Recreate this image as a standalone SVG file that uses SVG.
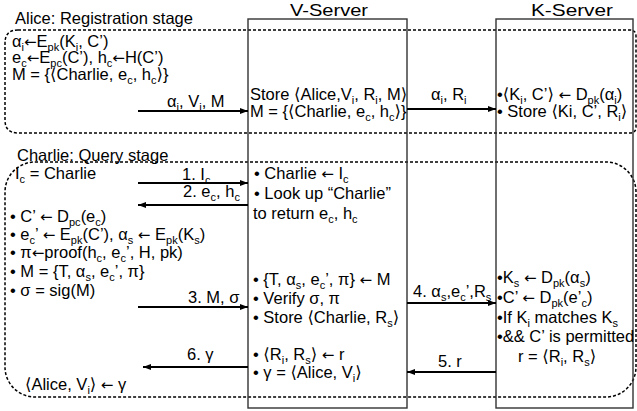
<svg xmlns="http://www.w3.org/2000/svg" width="637" height="411" viewBox="0 0 637 411">
<defs>
<style>
text{font-family:"Liberation Sans",Arial,"DejaVu Sans",sans-serif;font-size:16.5px;fill:#000}
.s{font-size:11px;baseline-shift:-4px}
.a{font-family:"DejaVu Sans",sans-serif;font-size:15px}
.ttl{font-size:17px}
.dash{fill:none;stroke:#000;stroke-width:1.5;stroke-dasharray:3 2}
.srv{fill:none;stroke:#333;stroke-width:1.4}
.arr{stroke:#000;stroke-width:2;fill:none;marker-end:url(#ah)}
</style>
<marker id="ah" markerWidth="8" markerHeight="6" refX="8" refY="3" orient="auto" markerUnits="userSpaceOnUse">
<path d="M0,0 L8,3 L0,6 Z" fill="#000"/>
</marker>
</defs>

<g id="alice-stage">
<path class="dash" d="M18,30 H630 Q636,30 636,36 V127 Q636,133 630,133 H18 Q5,133 5,120 V43 Q5,30 18,30 Z"/>
<text x="15" y="24">Alice: Registration stage</text>
<text x="12" y="47">α<tspan class="s">i</tspan><tspan class="a">←</tspan>E<tspan class="s">pk</tspan>(K<tspan class="s">i</tspan>, C’)</text>
<text x="12" y="63">e<tspan class="s">c</tspan><tspan class="a">←</tspan>E<tspan class="s">pc</tspan>(C’),  h<tspan class="s">c</tspan><tspan class="a">←</tspan>H(C’)</text>
<text x="12" y="80">M = {⟨Charlie, e<tspan class="s">c</tspan>, h<tspan class="s">c</tspan>⟩}</text>
</g>

<g id="charlie-stage">
<rect class="dash" x="5" y="162" width="631" height="235" rx="30" ry="30"/>
<text x="17" y="161">Charlie: Query stage</text>
<text x="15" y="179">I<tspan class="s">c</tspan> = Charlie</text>
<text x="10" y="222">• C’ <tspan class="a">←</tspan> D<tspan class="s">pc</tspan>(e<tspan class="s">c</tspan>)</text>
<text x="10" y="240">• e<tspan class="s">c</tspan>’ <tspan class="a">←</tspan> E<tspan class="s">pk</tspan>(C’), α<tspan class="s">s</tspan> <tspan class="a">←</tspan> E<tspan class="s">pk</tspan>(K<tspan class="s">s</tspan>)</text>
<text x="10" y="258">• π<tspan class="a">←</tspan>proof(h<tspan class="s">c</tspan>, e<tspan class="s">c</tspan>’, H, pk)</text>
<text x="10" y="277">• M = {T, α<tspan class="s">s</tspan>, e<tspan class="s">c</tspan>’, π}</text>
<text x="10" y="296">• σ = sig(M)</text>
<text x="25" y="390">⟨Alice, V<tspan class="s">i</tspan>⟩ <tspan class="a">←</tspan> γ</text>
</g>

<g id="v-server">
<rect class="srv" x="248" y="19" width="159" height="389"/>
<text class="ttl" x="290" y="16" textLength="78" lengthAdjust="spacingAndGlyphs">V-Server</text>
<text x="250" y="100">Store ⟨Alice,V<tspan class="s">i</tspan>, R<tspan class="s">i</tspan>, M⟩</text>
<text x="250" y="117">M = {⟨Charlie, e<tspan class="s">c</tspan>, h<tspan class="s">c</tspan>⟩}</text>
<text x="254" y="179">• Charlie <tspan class="a">←</tspan> I<tspan class="s">c</tspan></text>
<text x="254" y="199">• Look up “Charlie”</text>
<text x="253" y="219">to return e<tspan class="s">c</tspan>, h<tspan class="s">c</tspan></text>
<text x="253" y="285">• {T, α<tspan class="s">s</tspan>, e<tspan class="s">c</tspan>’, π} <tspan class="a">←</tspan> M</text>
<text x="253" y="304">• Verify σ, π</text>
<text x="253" y="323">• Store  ⟨Charlie, R<tspan class="s">s</tspan>⟩</text>
<text x="253" y="360">• ⟨R<tspan class="s">i</tspan>, R<tspan class="s">s</tspan>⟩ <tspan class="a">←</tspan> r</text>
<text x="253" y="378">• γ = ⟨Alice, V<tspan class="s">i</tspan>⟩</text>
</g>

<g id="k-server">
<rect class="srv" x="496" y="19" width="137" height="389"/>
<text class="ttl" x="531" y="16" textLength="82" lengthAdjust="spacingAndGlyphs">K-Server</text>
<text x="497" y="100">•⟨K<tspan class="s">i</tspan>, C’⟩ <tspan class="a">←</tspan> D<tspan class="s">pk</tspan>(α<tspan class="s">i</tspan>)</text>
<text x="497" y="117">• Store ⟨Ki, C’, R<tspan class="s">i</tspan>⟩</text>
<text x="497" y="283">•K<tspan class="s">s</tspan> <tspan class="a">←</tspan> D<tspan class="s">pk</tspan>(α<tspan class="s">s</tspan>)</text>
<text x="497" y="303">•C’ <tspan class="a">←</tspan> D<tspan class="s">pk</tspan>(e’<tspan class="s">c</tspan>)</text>
<text x="497" y="323">•If K<tspan class="s">i</tspan> matches K<tspan class="s">s</tspan></text>
<text x="497" y="342">•&amp;&amp; C’ is permitted</text>
<text x="518" y="362">r = ⟨R<tspan class="s">i</tspan>, R<tspan class="s">s</tspan>⟩</text>
</g>

<g id="connectors">
<line class="arr" x1="138" y1="111" x2="248" y2="111"/>
<text x="167" y="107">α<tspan class="s">i</tspan>, V<tspan class="s">i</tspan>, M</text>
<line class="arr" x1="407" y1="109" x2="496" y2="109"/>
<text x="431" y="100">α<tspan class="s">i</tspan>, R<tspan class="s">i</tspan></text>
<line class="arr" x1="138" y1="183" x2="248" y2="183"/>
<text x="182" y="180">1. I<tspan class="s">c</tspan></text>
<line class="arr" x1="248" y1="205" x2="138" y2="205"/>
<text x="183" y="197">2. e<tspan class="s">c</tspan>, h<tspan class="s">c</tspan></text>
<line class="arr" x1="138" y1="307" x2="248" y2="307"/>
<text x="188" y="303">3. M, σ</text>
<line class="arr" x1="407" y1="303" x2="496" y2="303"/>
<text x="413" y="297">4. α<tspan class="s">s</tspan>,e<tspan class="s">c</tspan>’,R<tspan class="s">s</tspan></text>
<line class="arr" x1="496" y1="372" x2="407" y2="372"/>
<text x="438" y="367">5. r</text>
<line class="arr" x1="248" y1="367" x2="143" y2="367"/>
<text x="187" y="360">6. γ</text>
</g>
</svg>
